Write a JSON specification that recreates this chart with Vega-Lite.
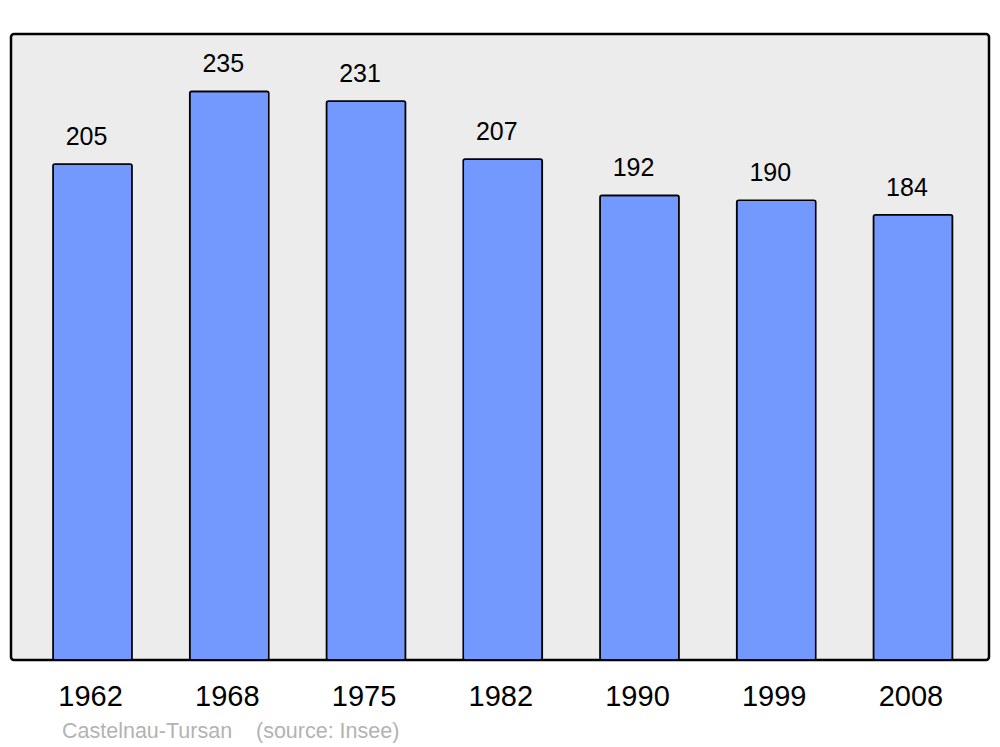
{
  "$schema": "https://vega.github.io/schema/vega-lite/v6.json",
  "width": 978,
  "height": 626,
  "autosize": "none",
  "padding": {"left": 11, "top": 34, "right": 11, "bottom": 87},
  "background": "white",
  "config": {
    "font": "Liberation Sans",
    "view": {"fill": "#ececec", "stroke": "black", "strokeWidth": 2.5, "cornerRadius": 3}
  },
  "title": {
    "text": "Castelnau-Tursan\u00a0\u00a0\u00a0\u00a0(source: Insee)",
    "orient": "bottom",
    "anchor": "start",
    "dx": 51,
    "offset": 10,
    "fontSize": 21.5,
    "fontWeight": "normal",
    "color": "#b3b3b3",
    "font": "Liberation Sans"
  },
  "data": {
    "values": [
      {"year": "1962", "population": 205},
      {"year": "1968", "population": 235},
      {"year": "1975", "population": 231},
      {"year": "1982", "population": 207},
      {"year": "1990", "population": 192},
      {"year": "1999", "population": 190},
      {"year": "2008", "population": 184}
    ]
  },
  "encoding": {
    "x": {
      "field": "year",
      "type": "ordinal",
      "sort": null,
      "scale": {"paddingInner": 0.422, "paddingOuter": 0.287, "align": 0.535},
      "axis": {
        "title": null,
        "domain": false,
        "ticks": false,
        "tickSize": 0,
        "labelAngle": 0,
        "labelFontSize": 29,
        "labelColor": "black",
        "labelBaseline": "alphabetic",
        "labelPadding": 45,
        "labelOffset": -2,
        "labelFont": "Liberation Sans"
      }
    },
    "y": {
      "field": "population",
      "type": "quantitative",
      "scale": {"domain": [0, 258.7], "nice": false, "zero": true},
      "axis": null
    }
  },
  "layer": [
    {
      "mark": {"type": "bar", "fill": "#7399ff", "stroke": "black", "strokeWidth": 1.6, "cornerRadius": 2}
    },
    {
      "mark": {"type": "text", "baseline": "alphabetic", "dy": -19, "dx": -6, "fontSize": 25, "color": "black", "font": "Liberation Sans"},
      "encoding": {"text": {"field": "population", "type": "quantitative"}}
    }
  ]
}
